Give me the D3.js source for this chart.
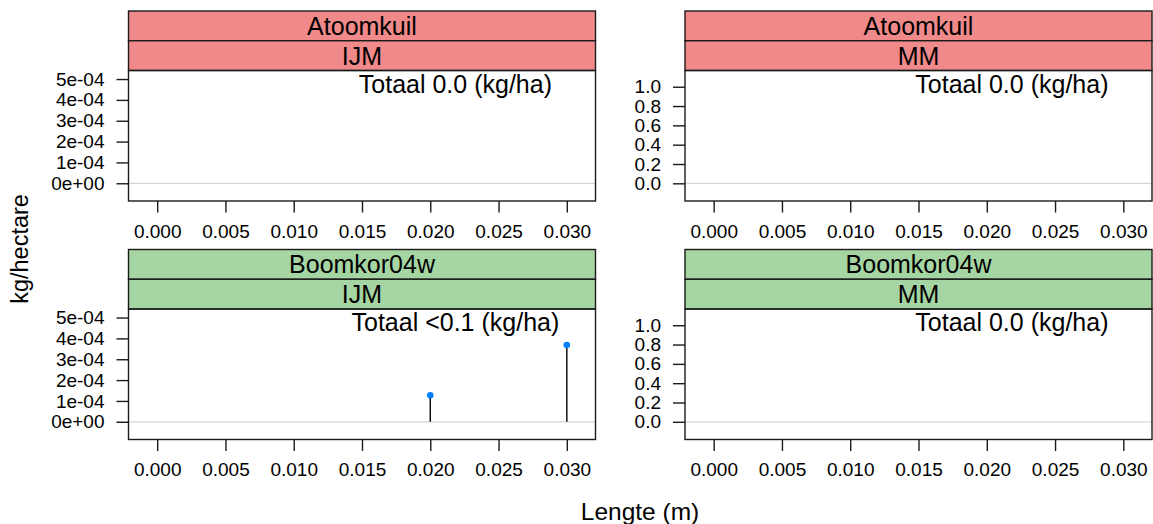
<!DOCTYPE html>
<html>
<head>
<meta charset="utf-8">
<script src="https://cdn.jsdelivr.net/npm/d3@7"></script>
<style>
  html, body { margin: 0; padding: 0; background: #ffffff; }
  svg { display: block; font-family: "Liberation Sans", Arial, sans-serif; }
</style>
</head>
<body>
<svg id="chart" width="1153" height="524"></svg>
<script>
// ---------- data ----------
const sites = ["Atoomkuil", "Boomkor04w"];
const gears = ["IJM", "MM"];
const totals = [
  ["Totaal 0.0 (kg/ha)", "Totaal 0.0 (kg/ha)"],
  ["Totaal <0.1 (kg/ha)", "Totaal 0.0 (kg/ha)"]
];
// stems: length (m) -> kg/hectare, per panel
const lenAtoomkuilIJM = [];
const valAtoomkuilIJM = [];
const lenAtoomkuilMM = [];
const valAtoomkuilMM = [];
const lenBoomkorIJM = [0.020, 0.030];
const valBoomkorIJM = [1.27e-4, 3.68e-4];
const lenBoomkorMM = [];
const valBoomkorMM = [];

const xTicks = [0.000, 0.005, 0.010, 0.015, 0.020, 0.025, 0.030];
const yTicksIJM = [0, 1e-4, 2e-4, 3e-4, 4e-4, 5e-4];
const yTickLabelsIJM = ["0e+00", "1e-04", "2e-04", "3e-04", "4e-04", "5e-04"];
const yTicksMM = [0, 0.2, 0.4, 0.6, 0.8, 1.0];
const yTickLabelsMM = ["0.0", "0.2", "0.4", "0.6", "0.8", "1.0"];
const xLimits = [-0.0021, 0.0321];
const yLimitsIJM = [-0.85e-4, 5.41e-4];
const yLimitsMM = [-0.183, 1.168];

const xTitle = "Lengte (m)";
const yTitle = "kg/hectare";

// ---------- styles / layout ----------
const stripFill = ["#F08A8A", "#A5D5A3"];
const panelLeft = [128.5, 685];
const panelTop = [11, 249.5];
const panelW = 467;
const stripH = 29.75;
const plotH = 130.5;

const svg = d3.select("#chart");

const panelData = [
  [[lenAtoomkuilIJM, valAtoomkuilIJM], [lenAtoomkuilMM, valAtoomkuilMM]],
  [[lenBoomkorIJM, valBoomkorIJM], [lenBoomkorMM, valBoomkorMM]]
];

sites.forEach((site, r) => {
  gears.forEach((gear, c) => {
    const x0 = panelLeft[c];
    const s0 = panelTop[r];
    const p0 = s0 + 2 * stripH;
    const g = svg.append("g");

    const x = d3.scaleLinear().domain(xLimits).range([x0, x0 + panelW]);
    const isIJM = gear === "IJM";
    const y = d3.scaleLinear().domain(isIJM ? yLimitsIJM : yLimitsMM).range([p0 + plotH, p0]);

    // strips
    [site, gear].forEach((lab, k) => {
      g.append("rect")
        .attr("x", x0).attr("y", s0 + k * stripH)
        .attr("width", panelW).attr("height", stripH)
        .attr("fill", stripFill[r]).attr("stroke", "#1a1a1a").attr("stroke-width", 1.4);
      g.append("text")
        .attr("x", x0 + panelW / 2).attr("y", s0 + k * stripH + stripH / 2 + 9)
        .attr("text-anchor", "middle").attr("font-size", 25).attr("fill", "#000")
        .text(lab);
    });

    // zero reference line
    g.append("line")
      .attr("x1", x0).attr("x2", x0 + panelW)
      .attr("y1", y(0)).attr("y2", y(0))
      .attr("stroke", "#d6d6d6").attr("stroke-width", 1.2);

    // stems and points
    const [lens, vals] = panelData[r][c];
    const pts = lens.map((l, i) => ({ l, v: vals[i] }));
    g.selectAll("line.stem").data(pts).enter().append("line")
      .attr("class", "stem")
      .attr("x1", d => x(d.l)).attr("x2", d => x(d.l))
      .attr("y1", y(0)).attr("y2", d => y(d.v))
      .attr("stroke", "#000").attr("stroke-width", 1.4);
    g.selectAll("circle.pt").data(pts).enter().append("circle")
      .attr("class", "pt")
      .attr("cx", d => x(d.l)).attr("cy", d => y(d.v)).attr("r", 3.3)
      .attr("fill", "#0080FF");

    // panel text
    g.append("text")
      .attr("x", x0 + panelW * 0.70).attr("y", p0 + 22)
      .attr("text-anchor", "middle").attr("font-size", 25).attr("fill", "#000")
      .text(totals[r][c]);

    // panel border
    g.append("rect")
      .attr("x", x0).attr("y", p0).attr("width", panelW).attr("height", plotH)
      .attr("fill", "none").attr("stroke", "#1a1a1a").attr("stroke-width", 1.4);

    // y axis
    const yAxis = d3.axisLeft(y)
      .tickValues(isIJM ? yTicksIJM : yTicksMM)
      .tickFormat((d, i) => (isIJM ? yTickLabelsIJM : yTickLabelsMM)[i])
      .tickSize(12).tickPadding(12);
    const ya = g.append("g").attr("transform", `translate(${x0},0)`).call(yAxis);
    ya.select(".domain").remove();
    ya.selectAll("line").attr("stroke", "#1a1a1a").attr("stroke-width", 1.4);
    ya.selectAll("text").attr("font-size", 19).attr("fill", "#000")
      .attr("font-family", "'Liberation Sans', Arial, sans-serif");

    // x axis
    const xAxis = d3.axisBottom(x)
      .tickValues(xTicks).tickFormat(d3.format(".3f"))
      .tickSize(11.5).tickPadding(12);
    const xa = g.append("g").attr("transform", `translate(0,${p0 + plotH})`).call(xAxis);
    xa.select(".domain").remove();
    xa.selectAll("line").attr("stroke", "#1a1a1a").attr("stroke-width", 1.4);
    xa.selectAll("text").attr("font-size", 19).attr("fill", "#000")
      .attr("font-family", "'Liberation Sans', Arial, sans-serif");
  });
});

// axis titles
svg.append("text")
  .attr("x", 640).attr("y", 520)
  .attr("text-anchor", "middle").attr("font-size", 24.5).attr("fill", "#000")
  .text(xTitle);
svg.append("text")
  .attr("transform", "translate(28,249) rotate(-90)")
  .attr("text-anchor", "middle").attr("font-size", 23.5).attr("fill", "#000")
  .text(yTitle);
</script>
</body>
</html>
